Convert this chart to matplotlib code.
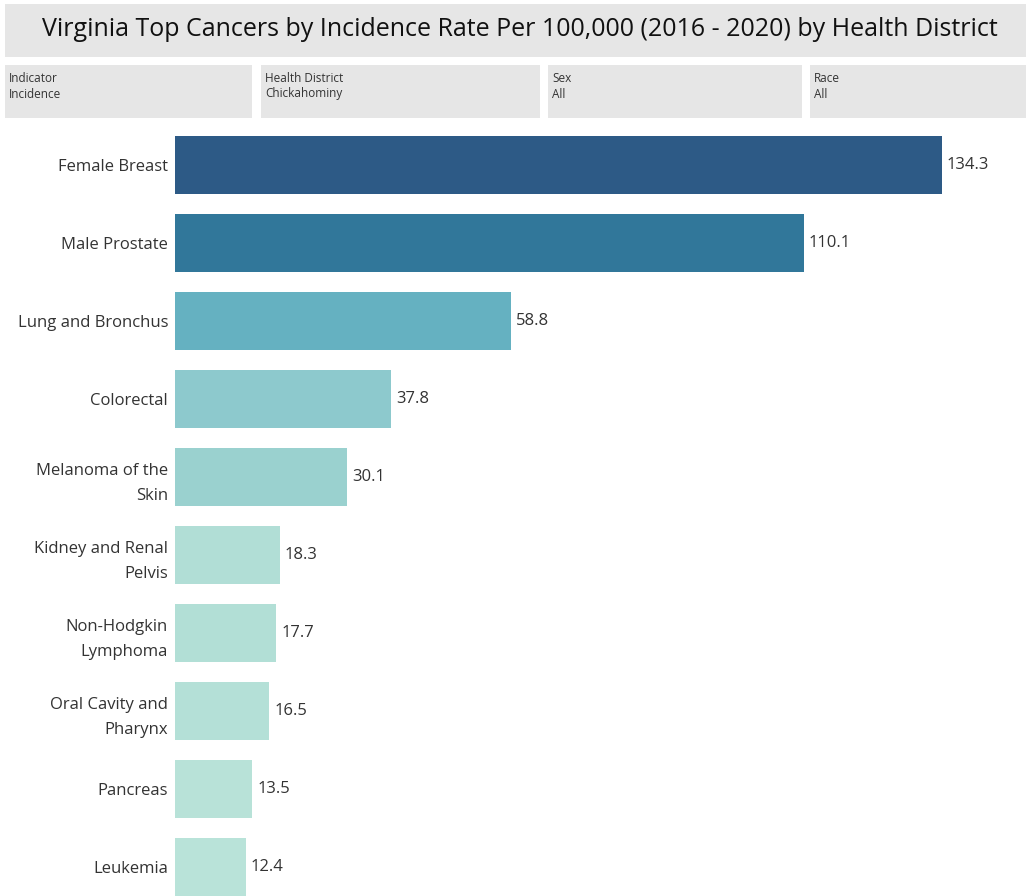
import matplotlib
matplotlib.use("Agg")
import matplotlib.pyplot as plt
from matplotlib.patches import Rectangle

title = "Virginia Top Cancers by Incidence Rate Per 100,000 (2016 - 2020) by Health District"
filter_names = ["Indicator", "Health District", "Sex", "Race"]
filter_values = ["Incidence", "Chickahominy", "All", "All"]
categories = ["Female Breast", "Male Prostate", "Lung and Bronchus", "Colorectal",
              "Melanoma of the\nSkin", "Kidney and Renal\nPelvis", "Non-Hodgkin\nLymphoma",
              "Oral Cavity and\nPharynx", "Pancreas", "Leukemia"]
values = [134.3, 110.1, 58.8, 37.8, 30.1, 18.3, 17.7, 16.5, 13.5, 12.4]
colors = ["#2d5a86", "#31779a", "#65b1c1", "#8dc9cd", "#9ad1cf",
          "#b1ded6", "#b2dfd6", "#b4e0d7", "#b8e2d8", "#b9e3d9"]

W, H = 1026, 896
fig = plt.figure(figsize=(W / 100, H / 100), dpi=100)
fig.patch.set_facecolor("white")

def px_rect(x0, y0, x1, y1, color):
    fig.patches.append(Rectangle((x0 / W, 1 - y1 / H), (x1 - x0) / W, (y1 - y0) / H,
                                 transform=fig.transFigure, facecolor=color,
                                 edgecolor="none", zorder=0))

# Title box
px_rect(5, 4, 1026, 57, "#e6e6e6")
fig.text(520 / W, 1 - 30 / H, title, ha="center", va="center", fontsize=18,
         family="Open Sans", color="#111111")

# Filter boxes
boxes = [(5, 252), (261, 540), (548, 802), (810, 1026)]
for (x0, x1), name, val in zip(boxes, filter_names, filter_values):
    px_rect(x0, 65, x1, 118, "#e6e6e6")
    fig.text((x0 + 4) / W, 1 - 78 / H, name, ha="left", va="center", fontsize=8.5,
             family="Open Sans", color="#333333")
    fig.text((x0 + 4) / W, 1 - 94 / H, val, ha="left", va="center", fontsize=8.5,
             family="Open Sans", color="#333333")

# Bar chart axes
ax_left, ax_top, ax_bottom, ax_right = 175, 126, 896, 1026
ax = fig.add_axes([ax_left / W, 1 - ax_bottom / H, (ax_right - ax_left) / W,
                   (ax_bottom - ax_top) / H])
scale = (942 - 175) / 134.3
ax.set_xlim(0, (ax_right - ax_left) / scale)
ax.set_ylim(9 + 29 / 78, -0.5)
ypos = list(range(len(categories)))
ax.barh(ypos, values, height=58 / 78, color=colors, edgecolor="none")
for y, v in zip(ypos, values):
    ax.text(v + 5 / scale, y, f"{v:.1f}", ha="left", va="center", fontsize=12,
            family="Open Sans", color="#333333")
ax.set_yticks(ypos)
ax.set_yticklabels(categories, fontsize=12, family="Open Sans", color="#333333",
                   linespacing=1.75)
ax.tick_params(axis="y", length=0, pad=5)
ax.set_xticks([])
for s in ax.spines.values():
    s.set_visible(False)

fig.savefig("out.png", dpi=100)
